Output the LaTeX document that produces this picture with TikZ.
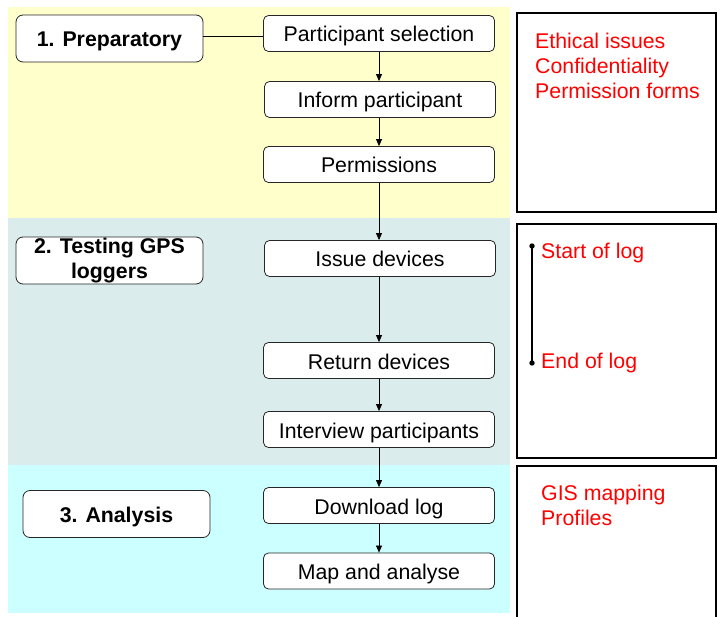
\documentclass[tikz,border=0pt]{standalone}
\usepackage{fontspec}
\setmainfont{Liberation Sans}
\usetikzlibrary{arrows.meta}
\definecolor{bandA}{RGB}{255,255,204}
\definecolor{bandB}{RGB}{218,236,236}
\definecolor{bandC}{RGB}{204,255,255}
\tikzset{
  stagebox/.style={draw=black!85, line width=0.8pt, rounded corners=7pt, fill=white,
    minimum width=187pt, minimum height=47pt, inner sep=0pt, align=center,
    font=\fontsize{21.3}{25}\selectfont\bfseries},
  oneline/.style={text height=17pt, text depth=0pt},
  stepbox/.style={draw=black!85, line width=0.8pt, rounded corners=5pt, fill=white,
    minimum width=231pt, minimum height=36pt, inner sep=0pt, oneline,
    font=\fontsize{21.3}{25}\selectfont},
  note/.style={text=red, anchor=north west, inner sep=0pt, align=left,
    font=\fontsize{21.3}{25}\selectfont},
  sidebox/.style={draw=black, line width=2.5pt},
  flow/.style={-{Triangle[length=7pt,width=6pt]}, line width=0.7pt},
  link/.style={line width=0.7pt}
}
\begin{document}
\begin{tikzpicture}[x=1pt,y=-1pt]
\useasboundingbox (0,0) rectangle (717,617);
% bands
\fill[bandA] (8,7) rectangle (510,218);
\fill[bandB] (8,218) rectangle (510,465);
\fill[bandC] (8,465) rectangle (510,613);
% side boxes
\draw[sidebox] (517,13) rectangle (716,212);
\draw[sidebox] (517,224) rectangle (716,458);
\draw[sidebox] (517,466) rectangle (716,625);
% stage nodes
\node[stagebox, oneline] (prep) at (109.5,38.5) {1. Preparatory};
\node[stagebox] (test) at (109.5,260.5) {2. Testing GPS\\loggers};
\node[stagebox, oneline] (anal) at (116.5,514) {3. Analysis};
% step nodes
\node[stepbox] (ps) at (379,33.5) {Participant selection};
\node[stepbox] (ip) at (380,99.5) {Inform participant};
\node[stepbox] (perm) at (379,164.5) {Permissions};
\node[stepbox] (issue) at (380,258.5) {Issue devices};
\node[stepbox] (ret) at (379,360.5) {Return devices};
\node[stepbox] (inter) at (379,429.5) {Interview participants};
\node[stepbox] (dl) at (379,505.5) {Download log};
\node[stepbox] (map) at (379,571) {Map and analyse};
% connectors
\draw[link] (prep.east |- 0,36) -- (ps.west |- 0,36);
\draw[flow] (ps.south -| 379,0) -- (ip.north -| 379,0);
\draw[flow] (ip.south -| 379,0) -- (perm.north -| 379,0);
\draw[flow] (perm.south -| 379,0) -- (issue.north -| 379,0);
\draw[flow] (issue.south -| 379,0) -- (ret.north -| 379,0);
\draw[flow] (ret.south -| 379,0) -- (inter.north -| 379,0);
\draw[flow] (inter.south -| 379,0) -- (dl.north -| 379,0);
\draw[flow] (dl.south -| 379,0) -- (map.north -| 379,0);
% notes
\node[note] (n1) at (535,32.5) {Ethical issues\\Confidentiality\\Permission forms};
\node[note] (n3) at (541,484.5) {GIS mapping\\Profiles};
\coordinate (ls) at (532,246);
\coordinate (le) at (532,363);
\draw[line width=1.5pt] (ls) -- (le);
\fill (ls) circle (2.7pt);
\fill (le) circle (2.7pt);
\node[note, anchor=base west] (s) at (541,259) {Start of log};
\node[note, anchor=base west] (e) at (541,368) {End of log};
\end{tikzpicture}
\end{document}
